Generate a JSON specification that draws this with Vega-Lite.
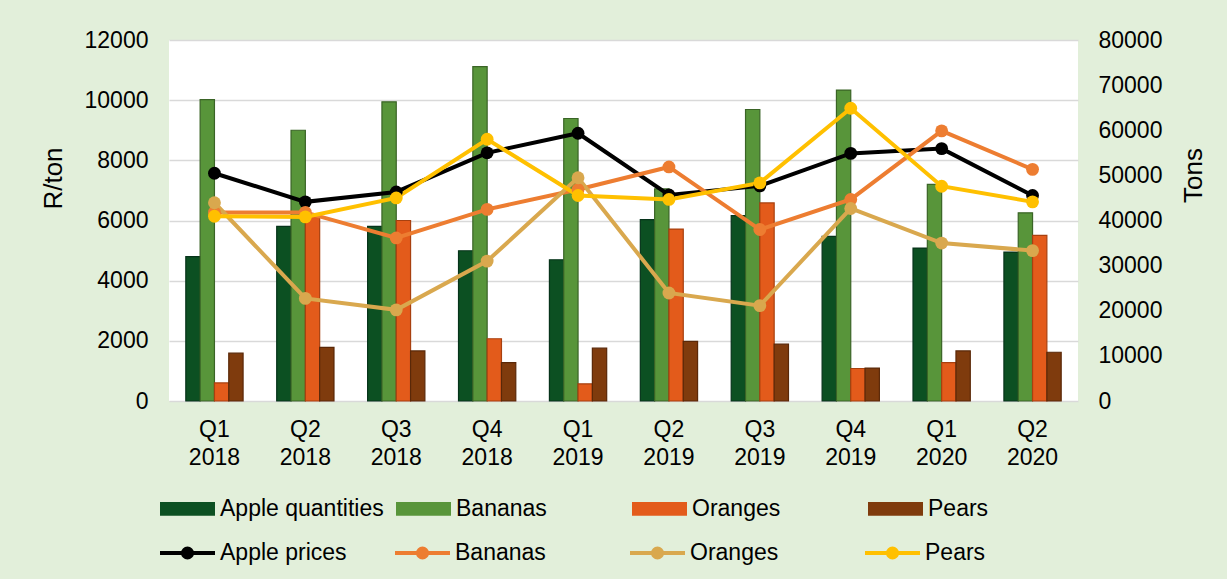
{
  "$schema": "https://vega.github.io/schema/vega-lite/v6.json",
  "autosize": "none",
  "width": 909,
  "height": 361,
  "padding": {"left": 169, "top": 40, "right": 149, "bottom": 178},
  "background": "#E2EFDA",
  "config": {
    "view": {"fill": "#FFFFFF", "stroke": null},
    "font": "Liberation Sans",
    "axis": {"labelFont": "Liberation Sans", "titleFont": "Liberation Sans", "labelColor": "#000000", "titleColor": "#000000", "labelFontSize": 23, "titleFontSize": 26, "titleFontWeight": "normal", "domain": false, "ticks": false},
    "legend": {"labelFont": "Liberation Sans", "labelFontSize": 23, "labelColor": "#000000", "padding": 0, "labelLimit": 400}
  },
  "data": {
    "values": [
      {"quarter": "Q1 2018", "kind": "qty", "series": "Apple quantities", "value": 32000},
      {"quarter": "Q2 2018", "kind": "qty", "series": "Apple quantities", "value": 38700},
      {"quarter": "Q3 2018", "kind": "qty", "series": "Apple quantities", "value": 38700},
      {"quarter": "Q4 2018", "kind": "qty", "series": "Apple quantities", "value": 33300},
      {"quarter": "Q1 2019", "kind": "qty", "series": "Apple quantities", "value": 31300},
      {"quarter": "Q2 2019", "kind": "qty", "series": "Apple quantities", "value": 40200},
      {"quarter": "Q3 2019", "kind": "qty", "series": "Apple quantities", "value": 41100},
      {"quarter": "Q4 2019", "kind": "qty", "series": "Apple quantities", "value": 36500},
      {"quarter": "Q1 2020", "kind": "qty", "series": "Apple quantities", "value": 33900},
      {"quarter": "Q2 2020", "kind": "qty", "series": "Apple quantities", "value": 33000},
      {"quarter": "Q1 2018", "kind": "qty", "series": "Bananas", "value": 66800},
      {"quarter": "Q2 2018", "kind": "qty", "series": "Bananas", "value": 60000},
      {"quarter": "Q3 2018", "kind": "qty", "series": "Bananas", "value": 66300},
      {"quarter": "Q4 2018", "kind": "qty", "series": "Bananas", "value": 74100},
      {"quarter": "Q1 2019", "kind": "qty", "series": "Bananas", "value": 62600},
      {"quarter": "Q2 2019", "kind": "qty", "series": "Bananas", "value": 47000},
      {"quarter": "Q3 2019", "kind": "qty", "series": "Bananas", "value": 64600},
      {"quarter": "Q4 2019", "kind": "qty", "series": "Bananas", "value": 68900},
      {"quarter": "Q1 2020", "kind": "qty", "series": "Bananas", "value": 48000},
      {"quarter": "Q2 2020", "kind": "qty", "series": "Bananas", "value": 41700},
      {"quarter": "Q1 2018", "kind": "qty", "series": "Oranges", "value": 4000},
      {"quarter": "Q2 2018", "kind": "qty", "series": "Oranges", "value": 41000},
      {"quarter": "Q3 2018", "kind": "qty", "series": "Oranges", "value": 40000},
      {"quarter": "Q4 2018", "kind": "qty", "series": "Oranges", "value": 13800},
      {"quarter": "Q1 2019", "kind": "qty", "series": "Oranges", "value": 3800},
      {"quarter": "Q2 2019", "kind": "qty", "series": "Oranges", "value": 38100},
      {"quarter": "Q3 2019", "kind": "qty", "series": "Oranges", "value": 43900},
      {"quarter": "Q4 2019", "kind": "qty", "series": "Oranges", "value": 7200},
      {"quarter": "Q1 2020", "kind": "qty", "series": "Oranges", "value": 8500},
      {"quarter": "Q2 2020", "kind": "qty", "series": "Oranges", "value": 36700},
      {"quarter": "Q1 2018", "kind": "qty", "series": "Pears", "value": 10600},
      {"quarter": "Q2 2018", "kind": "qty", "series": "Pears", "value": 11900},
      {"quarter": "Q3 2018", "kind": "qty", "series": "Pears", "value": 11100},
      {"quarter": "Q4 2018", "kind": "qty", "series": "Pears", "value": 8500},
      {"quarter": "Q1 2019", "kind": "qty", "series": "Pears", "value": 11700},
      {"quarter": "Q2 2019", "kind": "qty", "series": "Pears", "value": 13200},
      {"quarter": "Q3 2019", "kind": "qty", "series": "Pears", "value": 12600},
      {"quarter": "Q4 2019", "kind": "qty", "series": "Pears", "value": 7300},
      {"quarter": "Q1 2020", "kind": "qty", "series": "Pears", "value": 11100},
      {"quarter": "Q2 2020", "kind": "qty", "series": "Pears", "value": 10800},
      {"quarter": "Q1 2018", "kind": "price", "series": "Apple prices", "value": 7570},
      {"quarter": "Q2 2018", "kind": "price", "series": "Apple prices", "value": 6620},
      {"quarter": "Q3 2018", "kind": "price", "series": "Apple prices", "value": 6950},
      {"quarter": "Q4 2018", "kind": "price", "series": "Apple prices", "value": 8250},
      {"quarter": "Q1 2019", "kind": "price", "series": "Apple prices", "value": 8900},
      {"quarter": "Q2 2019", "kind": "price", "series": "Apple prices", "value": 6850},
      {"quarter": "Q3 2019", "kind": "price", "series": "Apple prices", "value": 7150},
      {"quarter": "Q4 2019", "kind": "price", "series": "Apple prices", "value": 8230},
      {"quarter": "Q1 2020", "kind": "price", "series": "Apple prices", "value": 8390},
      {"quarter": "Q2 2020", "kind": "price", "series": "Apple prices", "value": 6830},
      {"quarter": "Q1 2018", "kind": "price", "series": "Bananas", "value": 6270},
      {"quarter": "Q2 2018", "kind": "price", "series": "Bananas", "value": 6270},
      {"quarter": "Q3 2018", "kind": "price", "series": "Bananas", "value": 5420},
      {"quarter": "Q4 2018", "kind": "price", "series": "Bananas", "value": 6370},
      {"quarter": "Q1 2019", "kind": "price", "series": "Bananas", "value": 7030},
      {"quarter": "Q2 2019", "kind": "price", "series": "Bananas", "value": 7780},
      {"quarter": "Q3 2019", "kind": "price", "series": "Bananas", "value": 5700},
      {"quarter": "Q4 2019", "kind": "price", "series": "Bananas", "value": 6700},
      {"quarter": "Q1 2020", "kind": "price", "series": "Bananas", "value": 8980},
      {"quarter": "Q2 2020", "kind": "price", "series": "Bananas", "value": 7700},
      {"quarter": "Q1 2018", "kind": "price", "series": "Oranges", "value": 6590},
      {"quarter": "Q2 2018", "kind": "price", "series": "Oranges", "value": 3410},
      {"quarter": "Q3 2018", "kind": "price", "series": "Oranges", "value": 3030},
      {"quarter": "Q4 2018", "kind": "price", "series": "Oranges", "value": 4650},
      {"quarter": "Q1 2019", "kind": "price", "series": "Oranges", "value": 7420},
      {"quarter": "Q2 2019", "kind": "price", "series": "Oranges", "value": 3590},
      {"quarter": "Q3 2019", "kind": "price", "series": "Oranges", "value": 3170},
      {"quarter": "Q4 2019", "kind": "price", "series": "Oranges", "value": 6400},
      {"quarter": "Q1 2020", "kind": "price", "series": "Oranges", "value": 5250},
      {"quarter": "Q2 2020", "kind": "price", "series": "Oranges", "value": 5000},
      {"quarter": "Q1 2018", "kind": "price", "series": "Pears", "value": 6140},
      {"quarter": "Q2 2018", "kind": "price", "series": "Pears", "value": 6120},
      {"quarter": "Q3 2018", "kind": "price", "series": "Pears", "value": 6750},
      {"quarter": "Q4 2018", "kind": "price", "series": "Pears", "value": 8700},
      {"quarter": "Q1 2019", "kind": "price", "series": "Pears", "value": 6830},
      {"quarter": "Q2 2019", "kind": "price", "series": "Pears", "value": 6700},
      {"quarter": "Q3 2019", "kind": "price", "series": "Pears", "value": 7250},
      {"quarter": "Q4 2019", "kind": "price", "series": "Pears", "value": 9730},
      {"quarter": "Q1 2020", "kind": "price", "series": "Pears", "value": 7140},
      {"quarter": "Q2 2020", "kind": "price", "series": "Pears", "value": 6620}
    ]
  },
  "encoding": {
    "x": {
      "field": "quarter",
      "type": "nominal",
      "sort": null,
      "scale": {"paddingInner": 0.37, "paddingOuter": 0.185},
      "axis": {"title": null, "labelAngle": 0, "labelExpr": "split(datum.label, ' ')", "labelLineHeight": 28, "labelPadding": 17, "grid": false}
    }
  },
  "layer": [
    {
      "transform": [{"filter": "datum.kind === 'qty'"}],
      "mark": {"type": "bar", "strokeWidth": 1.2},
      "encoding": {
        "xOffset": {"field": "series", "type": "nominal", "scale": {"domain": ["Apple quantities", "Bananas", "Oranges", "Pears"], "paddingInner": 0, "paddingOuter": 0}},
        "y": {
          "field": "value", "type": "quantitative",
          "scale": {"domain": [0, 80000], "nice": false},
          "axis": {"orient": "right", "title": "Tons", "titleAngle": 270, "titleX": 128, "titleY": 135, "values": [0, 10000, 20000, 30000, 40000, 50000, 60000, 70000, 80000], "format": "d", "grid": false, "labelPadding": 20}
        },
        "color": {
          "field": "series", "type": "nominal",
          "scale": {"domain": ["Apple quantities", "Bananas", "Oranges", "Pears"], "range": ["#0C5022", "#58953A", "#E35B1B", "#7F3B0D"]},
          "legend": {"orient": "none", "legendX": -9, "legendY": 441, "direction": "horizontal", "columns": 4, "gridAlign": "all", "columnPadding": 12, "title": null, "symbolType": "M-1,-0.25H1V0.25H-1Z", "symbolSize": 3025, "symbolStrokeWidth": 0, "labelOffset": 5}
        },
        "stroke": {
          "field": "series", "type": "nominal",
          "scale": {"domain": ["Apple quantities", "Bananas", "Oranges", "Pears"], "range": ["#06331A", "#3A6426", "#A8400F", "#5A2808"]},
          "legend": null
        }
      }
    },
    {
      "transform": [{"filter": "datum.kind === 'price'"}],
      "mark": {"type": "line", "strokeWidth": 4, "point": {"filled": true, "size": 165}},
      "encoding": {
        "y": {
          "field": "value", "type": "quantitative",
          "scale": {"domain": [0, 12000], "nice": false},
          "axis": {"orient": "left", "title": "R/ton", "titleAngle": 270, "titleX": -103, "titleY": 138, "values": [0, 2000, 4000, 6000, 8000, 10000, 12000], "format": "d", "grid": true, "gridColor": "#D9D9D9", "gridWidth": 1.5, "labelPadding": 21}
        },
        "color": {
          "field": "series", "type": "nominal",
          "scale": {"domain": ["Apple prices", "Bananas", "Oranges", "Pears"], "range": ["#000000", "#ED7D31", "#D9A84E", "#FFC000"]},
          "legend": {"orient": "none", "legendX": -11, "legendY": 483, "direction": "horizontal", "columns": 4, "gridAlign": "all", "columnPadding": 40, "title": null, "symbolType": "M-1,0H1M-0.164,0A0.164,0.164 0 1,0 0.164,0A0.164,0.164 0 1,0 -0.164,0Z", "symbolSize": 3025, "symbolStrokeWidth": 4, "labelOffset": 3}
        }
      }
    }
  ],
  "resolve": {"scale": {"y": "independent", "color": "independent", "stroke": "independent"}}
}
